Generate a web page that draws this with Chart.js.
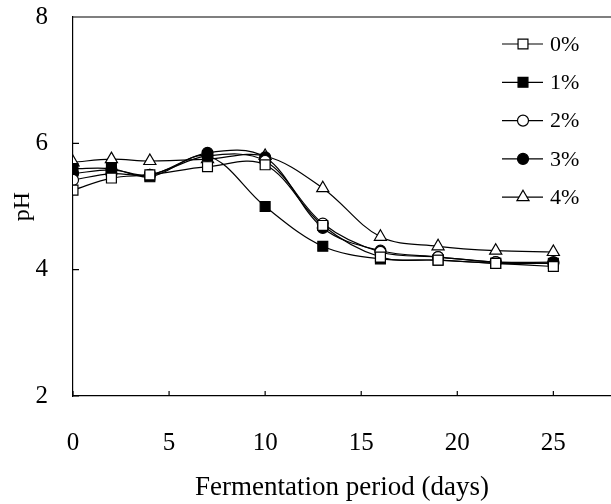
<!DOCTYPE html>
<html>
<head>
<meta charset="utf-8">
<script src="https://cdn.jsdelivr.net/npm/chart.js@4/dist/chart.umd.min.js"></script>
<style>
  html, body { margin: 0; padding: 0; background: #fff; overflow: hidden; }
  #wrap { width: 611px; height: 504px; position: relative; }
  #phChart { display: block; }
</style>
</head>
<body>
<div id="wrap"><canvas id="phChart"></canvas></div>
<script>
  // fermentation days
  const days = [0, 2, 4, 7, 10, 13, 16, 19, 22, 25]
  // pH per salt level
  const ph0 = [5.26, 5.45, 5.5, 5.63, 5.66, 4.7, 4.2, 4.15, 4.1, 4.05]
  const ph1 = [5.6, 5.6, 5.47, 5.8, 5.0, 4.37, 4.17, 4.15, 4.1, 4.1]
  const ph2 = [5.42, 5.52, 5.5, 5.8, 5.72, 4.73, 4.28, 4.2, 4.12, 4.1]
  const ph3 = [5.52, 5.58, 5.5, 5.85, 5.78, 4.66, 4.3, 4.2, 4.12, 4.12]
  const ph4 = [5.7, 5.75, 5.72, 5.75, 5.8, 5.29, 4.52, 4.37, 4.3, 4.28]
  const seriesLabels = ['0%', '1%', '2%', '3%', '4%']
  const yTicks = [2, 4, 6, 8]
  const xTicks = [0, 5, 10, 15, 20, 25]

  const serif = '"Liberation Serif", "DejaVu Serif", serif'

  // marker look for each series
  const markers = [
    { pointStyle: 'rect', fill: '#fff', radius: 7 },
    { pointStyle: 'rect', fill: '#000', radius: 7 },
    { pointStyle: 'circle', fill: '#fff', radius: 5.5 },
    { pointStyle: 'circle', fill: '#000', radius: 5.5 },
    { pointStyle: 'triangle', fill: '#fff', radius: 7 }
  ]

  const allSeries = [ph0, ph1, ph2, ph3, ph4]
  const datasets = allSeries.map((vals, i) => ({
    label: seriesLabels[i],
    data: days.map((d, j) => ({ x: d, y: vals[j] })),
    borderColor: '#000',
    borderWidth: 1.2,
    tension: 0.35,
    pointStyle: markers[i].pointStyle,
    pointRadius: markers[i].radius,
    pointBackgroundColor: markers[i].fill,
    pointBorderColor: '#000',
    pointBorderWidth: 1.2
  }))

  // box top line, inward tick marks and the legend
  const frame = {
    id: 'frame',
    afterDraw (chart) {
      const { ctx, chartArea, scales } = chart
      ctx.save()
      ctx.strokeStyle = '#000'
      ctx.lineWidth = 1.2
      ctx.beginPath()
      ctx.moveTo(chartArea.left, chartArea.top)
      ctx.lineTo(chartArea.right, chartArea.top)
      yTicks.forEach((v) => {
        const y = scales.y.getPixelForValue(v)
        ctx.moveTo(chartArea.left, y)
        ctx.lineTo(chartArea.left + 6, y)
      })
      xTicks.forEach((v) => {
        const x = scales.x.getPixelForValue(v)
        ctx.moveTo(x, chartArea.bottom)
        ctx.lineTo(x, chartArea.bottom - 5)
      })
      ctx.stroke()

      // legend
      const lx = 523
      let ly = 44
      ctx.font = '22px ' + serif
      ctx.textBaseline = 'middle'
      ctx.fillStyle = '#000'
      seriesLabels.forEach((lab, i) => {
        ctx.beginPath()
        ctx.lineWidth = 1.2
        ctx.moveTo(lx - 21, ly)
        ctx.lineTo(lx + 20, ly)
        ctx.stroke()
        ctx.fillStyle = markers[i].fill
        Chart.helpers.drawPoint(ctx, {
          pointStyle: markers[i].pointStyle,
          radius: markers[i].radius,
          rotation: 0,
          borderWidth: 1.2
        }, lx, ly)
        ctx.fillStyle = '#000'
        ctx.fillText(lab, lx + 27, ly + 1)
        ly += 38.3
      })
      ctx.restore()
    }
  }

  const ctx = document.getElementById('phChart').getContext('2d')
  const chart = new Chart(ctx, {
    type: 'line',
    data: { datasets },
    options: {
      responsive: true,
      maintainAspectRatio: false,
      animation: false,
      layout: { autoPadding: false, padding: { top: 17, right: 0, left: 0, bottom: 0 } },
      plugins: {
        legend: { display: false },
        tooltip: { enabled: false }
      },
      scales: {
        x: {
          type: 'linear',
          min: 0,
          max: 28,
          afterBuildTicks: (axis) => { axis.ticks = xTicks.map((v) => ({ value: v })) },
          afterFit: (axis) => {
            axis.height = 108
            axis.paddingLeft = 0
            axis.paddingRight = 0
          },
          grid: { display: false },
          border: { color: '#000', width: 1.2 },
          ticks: {
            color: '#000',
            padding: 24,
            maxRotation: 0,
            font: { family: serif, size: 25 }
          },
          title: {
            display: true,
            text: 'Fermentation period (days)',
            color: '#000',
            padding: { top: 0, bottom: 0 },
            font: { family: serif, size: 27 }
          }
        },
        y: {
          min: 2,
          max: 8,
          afterBuildTicks: (axis) => { axis.ticks = yTicks.map((v) => ({ value: v })) },
          afterFit: (axis) => {
            axis.width = 73
            axis.paddingTop = 0
            axis.paddingBottom = 0
          },
          grid: { display: false },
          border: { color: '#000', width: 1.2 },
          ticks: {
            color: '#000',
            padding: 17,
            font: { family: serif, size: 25 }
          },
          title: {
            display: true,
            text: 'pH',
            color: '#000',
            padding: { top: 8, bottom: 0 },
            font: { family: serif, size: 24 }
          }
        }
      }
    },
    plugins: [frame]
  })
</script>
</body>
</html>
